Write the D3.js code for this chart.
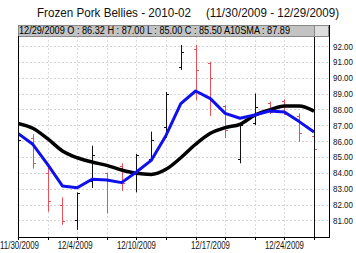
<!DOCTYPE html>
<html>
<head>
<meta charset="utf-8">
<script src="https://cdn.jsdelivr.net/npm/d3@7"></script>
<style>
    body { margin: 0; background: #fff; }
    svg text { font-family: "Liberation Sans", Arial, sans-serif; }
</style>
</head>
<body>
<div id="chart"></div>
<script>
// trading days shown on the chart
const dates = ["11/30/2009", "12/1/2009", "12/2/2009", "12/3/2009", "12/4/2009",
    "12/7/2009", "12/8/2009", "12/9/2009", "12/10/2009", "12/11/2009",
    "12/14/2009", "12/15/2009", "12/16/2009", "12/17/2009", "12/18/2009",
    "12/21/2009", "12/22/2009", "12/23/2009", "12/24/2009", "12/28/2009", "12/29/2009"];

// OHLC bars
const opens  = [86.0, 86.2, 84.0, 82.0, 81.0, 83.5, 84.0, 84.4, 84.0, 84.9, 86.9, 90.7, 91.8, 90.9, 88.2, 84.9, 87.16, 88.4, 88.5, 87.6, 86.32];
const highs  = [86.5, 86.43, 84.32, 82.45, 82.76, 85.71, 84.0, 84.6, 85.19, 86.6, 89.1, 92.06, 92.06, 91.01, 88.28, 87.1, 89.0, 88.49, 88.64, 87.75, 87.0];
const lows   = [85.6, 84.26, 81.54, 80.72, 80.4, 83.04, 81.44, 82.85, 82.77, 84.8, 86.2, 90.49, 88.59, 87.58, 86.18, 84.6, 87.0, 87.71, 87.65, 85.96, 85.0];
const closes = [86.1, 84.64, 82.25, 80.99, 82.7, 85.12, 83.6, 83.37, 85.12, 86.1, 89.0, 91.64, 90.49, 89.96, 86.7, 87.0, 88.13, 87.85, 87.7, 86.49, 85.5];

// moving averages
const shortMA = [86.49, 85.80, 84.53, 83.17, 83.06, 83.59, 83.55, 83.38, 84.05, 84.78, 86.36, 88.36, 89.16, 88.68, 87.75, 87.44, 87.65, 87.90, 87.84, 87.23, 86.57];
const a10sma  = [87.12, 86.81, 86.15, 85.38, 84.95, 84.68, 84.47, 84.18, 83.97, 83.90, 84.22, 84.95, 85.80, 86.49, 86.85, 87.06, 87.63, 87.97, 88.22, 88.22, 87.89];

// axis labels
const yTicks = [81, 82, 83, 84, 85, 86, 87, 88, 89, 90, 91, 92];
const xLabelIdx = [0, 4, 8, 13, 18];

const title = "Frozen Pork Bellies - 2010-02";
const subtitle = "(11/30/2009 - 12/29/2009)";

const window_w = 356, window_h = 253;
let margin = { top: 25, left: 18, bottom: 16, right: 27 };
let plot_right = window_w - margin.right;
let plot_bottom = window_h - margin.bottom;

let svg = d3.select("#chart")
    .append("svg")
    .attr("width", window_w)
    .attr("height", window_h);

const xScale = d3.scaleLinear()
    .domain([0, dates.length - 1])
    .range([18, 314]);

const yScale = d3.scaleLinear()
    .domain([80, 92])
    .range([236.2, 46]);

// title
svg.append("text")
    .attr("x", 37).attr("y", 17)
    .attr("font-size", "13px")
    .attr("fill", "#111")
    .attr("textLength", 154).attr("lengthAdjust", "spacingAndGlyphs")
    .text(title);
svg.append("text")
    .attr("x", 206).attr("y", 17)
    .attr("font-size", "13px")
    .attr("fill", "#111")
    .attr("textLength", 133).attr("lengthAdjust", "spacingAndGlyphs")
    .text(subtitle);

// clip for plot area
svg.append("clipPath").attr("id", "plotclip")
    .append("rect")
    .attr("x", margin.left).attr("y", 36)
    .attr("width", plot_right - margin.left)
    .attr("height", plot_bottom - 36);

let plot = svg.append("g");

// grid
let grid = plot.append("g").attr("class", "grid");
grid.selectAll("line.h")
    .data(yTicks)
    .enter()
    .append("line")
    .attr("x1", margin.left).attr("x2", plot_right)
    .attr("y1", d => Math.round(yScale(d)) + 0.5)
    .attr("y2", d => Math.round(yScale(d)) + 0.5)
    .attr("stroke", "#d4d4d4")
    .attr("stroke-dasharray", "2,2");

let evenIdx = d3.range(2, dates.length, 2);
grid.selectAll("line.v")
    .data(evenIdx)
    .enter()
    .append("line")
    .attr("x1", d => Math.round(xScale(d)) + 0.5)
    .attr("x2", d => Math.round(xScale(d)) + 0.5)
    .attr("y1", 36).attr("y2", plot_bottom)
    .attr("stroke", "#dcdcdc")
    .attr("stroke-dasharray", "2,2");

// bars
let bars = plot.append("g")
    .attr("clip-path", "url(#plotclip)");

let barData = dates.map((d, i) => ({ i: i, o: opens[i], h: highs[i], l: lows[i], c: closes[i] }));

let bar = bars.selectAll("g")
    .data(barData)
    .enter()
    .append("g")
    .attr("stroke", d => d.c < d.o ? "#e8505a" : "#111")
    .attr("stroke-width", 1);

bar.append("line")
    .attr("x1", d => Math.round(xScale(d.i)) + 0.5)
    .attr("x2", d => Math.round(xScale(d.i)) + 0.5)
    .attr("y1", d => yScale(d.h))
    .attr("y2", d => yScale(d.l));

bar.append("line")
    .attr("x1", d => Math.round(xScale(d.i)) - 2)
    .attr("x2", d => Math.round(xScale(d.i)) + 0.5)
    .attr("y1", d => Math.round(yScale(d.o)) + 0.5)
    .attr("y2", d => Math.round(yScale(d.o)) + 0.5);

bar.append("line")
    .attr("x1", d => Math.round(xScale(d.i)) + 0.5)
    .attr("x2", d => Math.round(xScale(d.i)) + 3)
    .attr("y1", d => Math.round(yScale(d.c)) + 0.5)
    .attr("y2", d => Math.round(yScale(d.c)) + 0.5);

// moving average lines
let lines = plot.append("g")
    .attr("clip-path", "url(#plotclip)");

const blackLine = d3.line()
    .x((d, i) => xScale(i))
    .y(d => yScale(d))
    .curve(d3.curveMonotoneX);

const blueLine = d3.line()
    .x((d, i) => xScale(i))
    .y(d => yScale(d));

lines.append("path")
    .datum(a10sma)
    .attr("d", blackLine)
    .attr("fill", "none")
    .attr("stroke", "#000")
    .attr("stroke-width", 3.5)
    .attr("stroke-linejoin", "round");

lines.append("path")
    .datum(shortMA)
    .attr("d", blueLine)
    .attr("fill", "none")
    .attr("stroke", "#1010ee")
    .attr("stroke-width", 3)
    .attr("stroke-linejoin", "round");

// cursor line at the last bar
let last = dates.length - 1;
plot.append("line")
    .attr("x1", Math.round(xScale(last)) + 0.5)
    .attr("x2", Math.round(xScale(last)) + 0.5)
    .attr("y1", margin.top).attr("y2", plot_bottom)
    .attr("stroke", "#111")
    .attr("stroke-width", 1);

// header with the last values
let header = svg.append("g");
header.append("rect")
    .attr("x", margin.left + 0.5).attr("y", margin.top + 0.5)
    .attr("width", Math.round(xScale(last)) - margin.left)
    .attr("height", 11)
    .attr("fill", "#c3c3c3")
    .attr("stroke", "#888");
header.append("rect")
    .attr("x", Math.round(xScale(last)) + 0.5).attr("y", margin.top + 0.5)
    .attr("width", plot_right - Math.round(xScale(last)) - 1)
    .attr("height", 11)
    .attr("fill", "#dedede")
    .attr("stroke", "#888");
header.append("text")
    .attr("x", 19).attr("y", 34)
    .attr("font-size", "10px")
    .attr("fill", "#000")
    .attr("textLength", 271).attr("lengthAdjust", "spacingAndGlyphs")
    .text(dates[last] + " O : " + opens[last].toFixed(2) + " H : " + highs[last].toFixed(2) +
        " L : " + lows[last].toFixed(2) + " C : " + closes[last].toFixed(2) +
        " A10SMA : " + a10sma[last].toFixed(2));

// axes
let axis = svg.append("g").attr("class", "axis");

axis.append("line")
    .attr("x1", margin.left + 0.5).attr("x2", margin.left + 0.5)
    .attr("y1", 36).attr("y2", plot_bottom + 0.5)
    .attr("stroke", "#000");
axis.append("line")
    .attr("x1", margin.left).attr("x2", plot_right + 1)
    .attr("y1", plot_bottom + 0.5).attr("y2", plot_bottom + 0.5)
    .attr("stroke", "#000");
axis.append("line")
    .attr("x1", plot_right + 0.5).attr("x2", plot_right + 0.5)
    .attr("y1", margin.top).attr("y2", plot_bottom + 0.5)
    .attr("stroke", "#000");

// bottom ticks
axis.selectAll("line.xt")
    .data(d3.range(0, dates.length, 2))
    .enter()
    .append("line")
    .attr("x1", d => Math.round(xScale(d)) + 0.5)
    .attr("x2", d => Math.round(xScale(d)) + 0.5)
    .attr("y1", plot_bottom).attr("y2", plot_bottom + 3)
    .attr("stroke", "#000");

// date labels, squeezed like the original narrow font
axis.selectAll("text.xl")
    .data(xLabelIdx)
    .enter()
    .append("text")
    .attr("x", d => Math.max(xScale(d) - 19.5, 0))
    .attr("y", 249)
    .attr("font-size", "10px")
    .attr("fill", "#111")
    .attr("textLength", d => dates[d].length > 9 ? 39 : 35)
    .attr("lengthAdjust", "spacingAndGlyphs")
    .text(d => dates[d]);

axis.selectAll("text.yl")
    .data(yTicks)
    .enter()
    .append("text")
    .attr("x", 333)
    .attr("y", d => yScale(d) + 3.5)
    .attr("font-size", "9px")
    .attr("fill", "#111")
    .attr("textLength", 20)
    .attr("lengthAdjust", "spacingAndGlyphs")
    .text(d => d.toFixed(2));
</script>
</body>
</html>
